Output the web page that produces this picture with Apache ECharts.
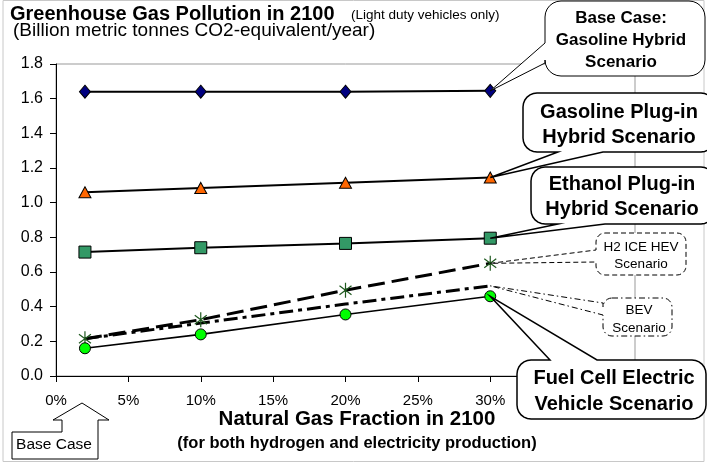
<!DOCTYPE html>
<html>
<head>
<meta charset="utf-8">
<script src="https://cdn.jsdelivr.net/npm/echarts@6/dist/echarts.min.js"></script>
<style>
  html, body { margin: 0; padding: 0; background: #fff; }
  #myChart { width: 707px; height: 463px; }
</style>
</head>
<body>
<div id="myChart"></div>
<script>
// natural gas fraction (%) of each scenario point
const xPct = [2, 10, 20, 30];
// billion metric tonnes CO2-eq / year
const gasHybrid = [1.64, 1.64, 1.64, 1.645];
const gasPhev = [1.06, 1.085, 1.115, 1.145];
const ethPhev = [0.715, 0.74, 0.765, 0.795];
const h2Ice = [0.215, 0.325, 0.495, 0.65];
const bev = [0.215, 0.305, 0.415, 0.52];
const fcv = [0.16, 0.24, 0.355, 0.46];
const seriesNames = ['Gasoline Hybrid', 'Gasoline Plug-in Hybrid', 'Ethanol Plug-in Hybrid', 'H2 ICE HEV', 'BEV', 'Fuel Cell Electric Vehicle'];

const FONT = '"Liberation Sans", Arial, Helvetica, sans-serif';
const pts = vals => xPct.map((x, i) => [x, vals[i]]);
const starPath = 'path://M0,-10L0,10M-8,-6L8,6M-8,6L8,-6';

let chart = echarts.init(document.getElementById('myChart'));

let option = {
  animation: false,
  title: [
    { text: 'Greenhouse Gas Pollution in 2100', left: 5, top: -1,
      textStyle: { fontFamily: FONT, fontSize: 20, fontWeight: 'bold', color: '#000' } },
    { text: '(Light duty vehicles only)', left: 346, top: 3,
      textStyle: { fontFamily: FONT, fontSize: 13.5, fontWeight: 'normal', color: '#000' } },
    { text: '(Billion metric tonnes CO2-equivalent/year)', left: 8, top: 16,
      textStyle: { fontFamily: FONT, fontSize: 19, fontWeight: 'normal', color: '#000' } }
  ],
  grid: { left: 56, top: 64, right: 72, bottom: 87, show: true, borderColor: '#999', borderWidth: 1 },
  xAxis: {
    type: 'value', min: 0, max: 40, interval: 5,
    axisLine: { lineStyle: { color: '#000', width: 1 } },
    axisTick: { inside: false, length: 6, lineStyle: { color: '#000' } },
    splitLine: { show: false },
    axisLabel: { formatter: v => v + '%', margin: 17, fontFamily: FONT, fontSize: 15, color: '#000' }
  },
  yAxis: {
    type: 'value', min: 0, max: 1.8, interval: 0.2,
    axisLine: { show: true, lineStyle: { color: '#000', width: 1 } },
    axisTick: { show: true, length: 6, lineStyle: { color: '#000' } },
    splitLine: { show: false },
    axisLabel: { formatter: v => v.toFixed(1), margin: 13, fontFamily: FONT, fontSize: 16, color: '#000' }
  },
  series: [
    { name: seriesNames[0], type: 'line', data: pts(gasHybrid),
      symbol: 'diamond', symbolSize: [11, 13],
      lineStyle: { color: '#000', width: 2 },
      itemStyle: { color: '#000080', borderColor: '#000', borderWidth: 1 } },
    { name: seriesNames[1], type: 'line', data: pts(gasPhev),
      symbol: 'triangle', symbolSize: [12, 11],
      lineStyle: { color: '#000', width: 2 },
      itemStyle: { color: '#FF6600', borderColor: '#000', borderWidth: 1 } },
    { name: seriesNames[2], type: 'line', data: pts(ethPhev),
      symbol: 'rect', symbolSize: 12,
      lineStyle: { color: '#000', width: 2 },
      itemStyle: { color: '#339966', borderColor: '#000', borderWidth: 1 } },
    { name: seriesNames[4], type: 'line', data: pts(bev),
      symbol: 'none',
      lineStyle: { color: '#000', width: 3, type: [14, 5, 4, 5] } },
    { name: seriesNames[3], type: 'line', data: pts(h2Ice),
      symbol: starPath, symbolSize: 15, symbolKeepAspect: true,
      lineStyle: { color: '#000', width: 3, type: [17, 7] },
      itemStyle: { color: 'none', borderColor: '#1f5a1f', borderWidth: 1.2 } },
    { name: seriesNames[5], type: 'line', data: pts(fcv),
      symbol: 'circle', symbolSize: 11,
      lineStyle: { color: '#000', width: 1.6 },
      itemStyle: { color: '#00FF00', borderColor: '#000', borderWidth: 1 } }
  ]
};
chart.setOption(option);

// rounded callout outline (polygon points) with a wedge out to tip
function arcPts(cx, cy, r, a0, a1) {
  let out = [];
  for (let i = 0; i <= 6; i++) {
    let t = (a0 + (a1 - a0) * i / 6) * Math.PI / 180;
    out.push([cx + r * Math.cos(t), cy + r * Math.sin(t)]);
  }
  return out;
}
function calloutPoints(x, y, w, h, r, side, a, b, tip) {
  let p = [];
  p.push([x + r, y]);
  if (side === 'top') p.push([a, y], tip, [b, y]);
  p = p.concat(arcPts(x + w - r, y + r, r, -90, 0));
  p = p.concat(arcPts(x + w - r, y + h - r, r, 0, 90));
  if (side === 'bottom') p.push([b, y + h], tip, [a, y + h]);
  p = p.concat(arcPts(x + r, y + h - r, r, 90, 180));
  if (side === 'left') p.push([x, b], tip, [x, a]);
  p = p.concat(arcPts(x + r, y + r, r, 180, 270));
  return p;
}

const callouts = [
  { vals: gasHybrid, box: [545, 1, 160, 75], r: 16, side: 'left', a: 43, b: 63,
    lines: ['Base Case:', 'Gasoline Hybrid', 'Scenario'], ys: [18, 40, 62], cx: 621, font: 'bold 17px ' + FONT, lw: 1 },
  { vals: gasPhev, box: [523, 93, 192, 59], r: 14, side: 'bottom', a: 558, b: 603,
    lines: ['Gasoline Plug-in', 'Hybrid Scenario'], ys: [112, 137], cx: 619, font: 'bold 20px ' + FONT, lw: 1.5 },
  { vals: ethPhev, box: [531, 167, 184, 57], r: 14, side: 'bottom', a: 558, b: 605,
    lines: ['Ethanol Plug-in', 'Hybrid Scenario'], ys: [184, 209], cx: 622, font: 'bold 20px ' + FONT, lw: 1.5 },
  { vals: h2Ice, box: [596, 233, 90, 42], r: 9, side: 'left', a: 250, b: 262, dash: [5, 3],
    lines: ['H2 ICE HEV', 'Scenario'], ys: [247, 264], cx: 641, font: '13.5px ' + FONT, lw: 1 },
  { vals: bev, box: [603, 298, 69, 38], r: 9, side: 'left', a: 303, b: 315, dash: [6, 3, 1.5, 3],
    lines: ['BEV', 'Scenario'], ys: [310, 328], cx: 639, font: '13.5px ' + FONT, lw: 1 },
  { vals: fcv, box: [517, 360, 189, 59], r: 14, side: 'top', a: 550, b: 597,
    lines: ['Fuel Cell Electric', 'Vehicle Scenario'], ys: [378, 404], cx: 614, font: 'bold 20px ' + FONT, lw: 1.5 }
];

let elements = [
  // outer frame
  { type: 'rect', shape: { x: 3, y: 0.5, width: 701, height: 461 }, silent: true, z: 1,
    style: { fill: 'none', stroke: '#c8c8c8', lineWidth: 1 } }
];
callouts.forEach(c => {
  let last = c.vals.length - 1;
  let tip = chart.convertToPixel({ gridIndex: 0 }, [xPct[last], c.vals[last]]);
  elements.push({
    type: 'polygon', z: 100,
    shape: { points: calloutPoints(c.box[0], c.box[1], c.box[2], c.box[3], c.r, c.side, c.a, c.b, tip) },
    style: { fill: '#fff', stroke: '#000', lineWidth: c.lw, lineDash: c.dash || null }
  });
  c.lines.forEach((t, i) => {
    elements.push({
      type: 'text', z: 101,
      style: { text: t, x: c.cx, y: c.ys[i], font: c.font, fill: '#000', textAlign: 'center', textVerticalAlign: 'middle' }
    });
  });
});

// "Base Case" up-arrow below the 2% point
elements.push({
  type: 'polygon', z: 100,
  shape: { points: [[12, 432], [62, 432], [62, 420], [53, 420], [82, 403], [109, 420], [98, 420], [98, 459], [12, 459]] },
  style: { fill: '#fff', stroke: '#000', lineWidth: 1 }
});
elements.push({
  type: 'text', z: 101,
  style: { text: 'Base Case', x: 54, y: 445, font: '15.5px ' + FONT, fill: '#000', textAlign: 'center', textVerticalAlign: 'middle' }
});
// x axis name, two lines
elements.push({
  type: 'text', z: 101,
  style: { text: 'Natural Gas Fraction in 2100', x: 357, y: 419, font: 'bold 20.5px ' + FONT, fill: '#000', textAlign: 'center', textVerticalAlign: 'middle' }
});
elements.push({
  type: 'text', z: 101,
  style: { text: '(for both hydrogen and electricity production)', x: 357, y: 443, font: 'bold 16.5px ' + FONT, fill: '#000', textAlign: 'center', textVerticalAlign: 'middle' }
});

chart.setOption({ graphic: { elements: elements } });
</script>
</body>
</html>
